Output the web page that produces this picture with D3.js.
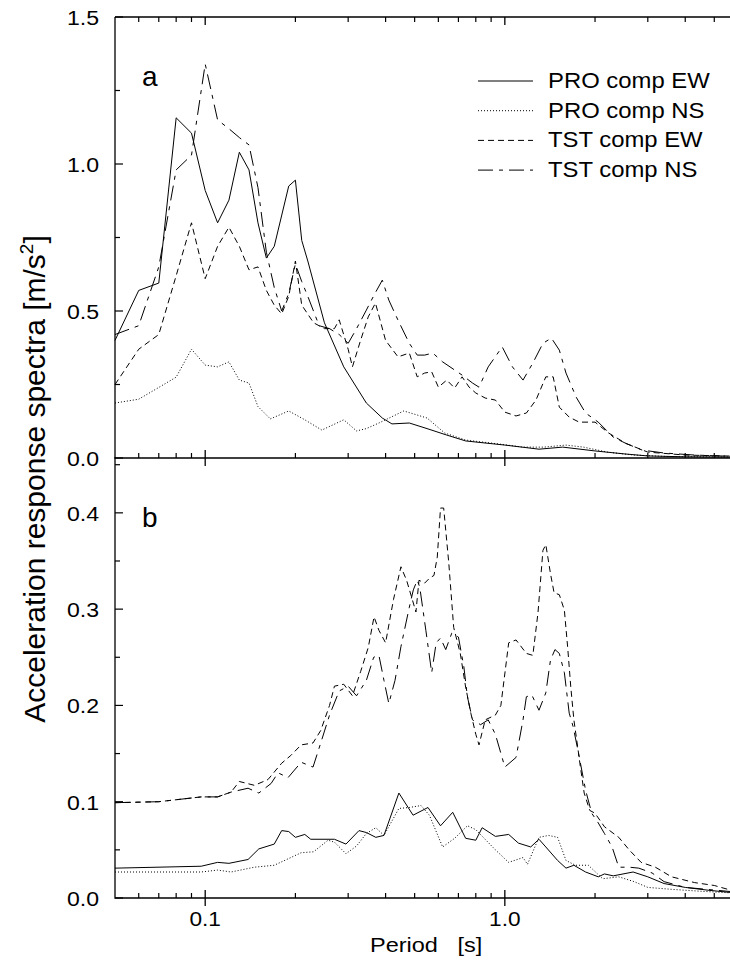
<html>
<script src="https://d3js.org/d3.v7.min.js"></script>
<style>
  body { margin: 0; background: white; }
  svg { display: block; font-family: "Liberation Sans", Arial, sans-serif; }
</style>
<body>
<svg id="chart" width="730" height="962"></svg>
<script>
// data: [period (s), acceleration (m/s2)]
const proEwA = [[0.05,0.40],[0.06,0.57],[0.07,0.595],[0.08,1.157],[0.09,1.105],[0.1,0.91],[0.11,0.80],[0.12,0.877],[0.13,1.04],[0.14,0.98],[0.15,0.80],[0.16,0.68],[0.17,0.72],[0.19,0.925],[0.2,0.945],[0.21,0.74],[0.22,0.67],[0.25,0.46],[0.29,0.31],[0.345,0.187],[0.39,0.136],[0.42,0.116],[0.48,0.119],[0.55,0.10],[0.64,0.078],[0.74,0.058],[1.0,0.044],[1.3,0.03],[1.56,0.037],[2.0,0.024],[2.5,0.014],[3.0,0.007],[4.0,0.004],[6,0.003]];
const proNsA = [[0.05,0.187],[0.06,0.20],[0.07,0.24],[0.08,0.275],[0.09,0.37],[0.1,0.316],[0.11,0.31],[0.12,0.327],[0.13,0.265],[0.14,0.255],[0.15,0.175],[0.165,0.133],[0.19,0.16],[0.215,0.13],[0.245,0.095],[0.29,0.13],[0.32,0.092],[0.345,0.10],[0.38,0.119],[0.46,0.16],[0.55,0.136],[0.63,0.085],[0.74,0.061],[0.95,0.048],[1.15,0.037],[1.35,0.037],[1.6,0.044],[1.83,0.037],[2.2,0.02],[2.7,0.01],[3.5,0.005],[6,0.003]];
const tstEwA = [[0.05,0.25],[0.06,0.37],[0.07,0.42],[0.08,0.62],[0.09,0.80],[0.1,0.61],[0.11,0.72],[0.12,0.785],[0.13,0.72],[0.14,0.64],[0.15,0.65],[0.16,0.57],[0.17,0.52],[0.18,0.49],[0.19,0.55],[0.2,0.67],[0.21,0.52],[0.23,0.46],[0.25,0.44],[0.27,0.44],[0.28,0.47],[0.30,0.37],[0.31,0.31],[0.33,0.40],[0.35,0.48],[0.37,0.527],[0.4,0.40],[0.44,0.344],[0.48,0.357],[0.51,0.276],[0.54,0.289],[0.57,0.293],[0.6,0.241],[0.64,0.265],[0.68,0.238],[0.72,0.276],[0.76,0.241],[0.8,0.221],[0.86,0.204],[0.93,0.197],[1.0,0.156],[1.09,0.143],[1.18,0.153],[1.27,0.197],[1.37,0.276],[1.45,0.276],[1.52,0.173],[1.64,0.139],[1.77,0.122],[2.0,0.122],[2.22,0.085],[2.53,0.05],[3.0,0.02],[4.0,0.01],[6,0.006]];
const tstNsA = [[0.05,0.42],[0.06,0.45],[0.07,0.65],[0.08,0.98],[0.09,1.03],[0.1,1.34],[0.11,1.15],[0.12,1.12],[0.13,1.09],[0.14,1.065],[0.15,0.92],[0.16,0.70],[0.17,0.58],[0.18,0.50],[0.19,0.56],[0.2,0.66],[0.21,0.60],[0.22,0.55],[0.24,0.45],[0.26,0.44],[0.28,0.42],[0.30,0.39],[0.32,0.44],[0.345,0.503],[0.366,0.554],[0.39,0.605],[0.41,0.537],[0.44,0.469],[0.48,0.39],[0.51,0.35],[0.54,0.35],[0.575,0.357],[0.62,0.327],[0.72,0.282],[0.78,0.255],[0.82,0.241],[0.88,0.31],[0.98,0.378],[1.06,0.31],[1.15,0.265],[1.24,0.323],[1.34,0.39],[1.43,0.408],[1.52,0.367],[1.6,0.289],[1.73,0.207],[1.86,0.153],[2.05,0.122],[2.3,0.071],[2.53,0.05],[2.87,0.027],[3.4,0.017],[4.3,0.01],[6,0.005]];

const proEwB = [[0.05,0.031],[0.097,0.033],[0.11,0.037],[0.12,0.036],[0.139,0.040],[0.151,0.051],[0.17,0.056],[0.18,0.070],[0.19,0.069],[0.2,0.063],[0.215,0.066],[0.225,0.061],[0.27,0.061],[0.295,0.056],[0.326,0.07],[0.345,0.068],[0.371,0.063],[0.395,0.065],[0.443,0.109],[0.494,0.086],[0.554,0.094],[0.61,0.075],[0.67,0.089],[0.74,0.062],[0.8,0.060],[0.84,0.073],[0.93,0.064],[1.03,0.066],[1.11,0.057],[1.22,0.053],[1.3,0.061],[1.37,0.053],[1.5,0.039],[1.6,0.031],[1.7,0.034],[1.86,0.027],[2.05,0.022],[2.15,0.025],[2.3,0.023],[2.68,0.027],[3.0,0.022],[3.4,0.015],[4.0,0.011],[4.8,0.008],[6,0.005]];
const proNsB = [[0.05,0.027],[0.097,0.027],[0.11,0.029],[0.122,0.027],[0.146,0.032],[0.17,0.034],[0.193,0.042],[0.209,0.047],[0.23,0.048],[0.257,0.060],[0.27,0.058],[0.295,0.046],[0.32,0.054],[0.345,0.067],[0.371,0.073],[0.395,0.065],[0.443,0.093],[0.48,0.094],[0.525,0.096],[0.56,0.086],[0.62,0.053],[0.68,0.062],[0.75,0.075],[0.8,0.071],[0.93,0.050],[1.03,0.037],[1.15,0.042],[1.19,0.035],[1.3,0.063],[1.4,0.065],[1.5,0.063],[1.6,0.039],[1.72,0.034],[1.9,0.034],[2.12,0.020],[2.4,0.022],[2.7,0.017],[3.0,0.011],[3.6,0.009],[4.5,0.007],[6,0.005]];
const tstEwB = [[0.05,0.099],[0.07,0.10],[0.097,0.105],[0.11,0.105],[0.122,0.11],[0.13,0.121],[0.146,0.117],[0.162,0.123],[0.18,0.14],[0.193,0.148],[0.209,0.159],[0.229,0.161],[0.243,0.174],[0.26,0.20],[0.27,0.22],[0.29,0.222],[0.31,0.21],[0.33,0.235],[0.35,0.26],[0.366,0.292],[0.38,0.278],[0.40,0.265],[0.425,0.31],[0.45,0.344],[0.47,0.33],[0.49,0.311],[0.505,0.297],[0.517,0.33],[0.54,0.327],[0.56,0.332],[0.58,0.335],[0.595,0.354],[0.61,0.405],[0.625,0.405],[0.65,0.348],[0.675,0.281],[0.71,0.254],[0.74,0.219],[0.77,0.192],[0.8,0.17],[0.82,0.159],[0.86,0.185],[0.93,0.19],[0.97,0.2],[1.03,0.265],[1.09,0.268],[1.18,0.254],[1.24,0.252],[1.29,0.296],[1.34,0.361],[1.37,0.367],[1.42,0.337],[1.46,0.317],[1.52,0.315],[1.58,0.299],[1.62,0.261],[1.66,0.219],[1.7,0.185],[1.75,0.157],[1.78,0.14],[1.84,0.109],[1.92,0.091],[2.0,0.088],[2.15,0.074],[2.4,0.063],[2.6,0.05],[2.85,0.037],[3.18,0.032],[3.6,0.022],[4.3,0.016],[5.0,0.013],[6,0.006]];
const tstNsB = [[0.05,0.099],[0.07,0.10],[0.097,0.105],[0.11,0.105],[0.122,0.11],[0.139,0.114],[0.151,0.109],[0.166,0.119],[0.175,0.13],[0.189,0.125],[0.209,0.141],[0.229,0.136],[0.243,0.161],[0.26,0.19],[0.28,0.215],[0.30,0.22],[0.32,0.21],[0.345,0.226],[0.365,0.25],[0.38,0.252],[0.395,0.226],[0.41,0.202],[0.43,0.226],[0.45,0.261],[0.48,0.302],[0.495,0.32],[0.51,0.33],[0.52,0.323],[0.545,0.278],[0.57,0.234],[0.59,0.265],[0.61,0.27],[0.635,0.258],[0.665,0.275],[0.7,0.271],[0.73,0.24],[0.75,0.209],[0.78,0.185],[0.83,0.18],[0.88,0.185],[0.93,0.17],[1.0,0.136],[1.09,0.146],[1.15,0.185],[1.18,0.209],[1.23,0.211],[1.3,0.195],[1.37,0.213],[1.42,0.247],[1.47,0.258],[1.52,0.254],[1.58,0.234],[1.64,0.192],[1.69,0.178],[1.76,0.151],[1.86,0.112],[1.95,0.088],[2.05,0.078],[2.15,0.067],[2.28,0.053],[2.4,0.032],[2.6,0.032],[2.8,0.031],[3.1,0.026],[3.4,0.017],[4.0,0.011],[6,0.006]];

const seriesNames = ["PRO comp EW", "PRO comp NS", "TST comp EW", "TST comp NS"];
const xMajor = [0.1, 1.0];
const xMinor = [0.06, 0.07, 0.08, 0.09, 0.2, 0.3, 0.4, 0.5, 0.6, 0.7, 0.8, 0.9, 2, 3, 4, 5];
const yMajorA = [0, 0.5, 1.0, 1.5], yMinorA = [0.25, 0.75, 1.25];
const yMajorB = [0, 0.1, 0.2, 0.3, 0.4], yMinorB = [0.05, 0.15, 0.25, 0.35, 0.45];

const dashes = [null, "1,2", "6,4", "15,6,4,6"];

const svg = d3.select("#chart");
const left = 115, right = 738;
const x = d3.scaleLog().domain([0.05, 6]).range([left, right]);
const yA = d3.scaleLinear().domain([0, 1.5]).range([458, 17]);
const yB = d3.scaleLinear().domain([0, 0.458]).range([898, 457]);

function txt(g, px, py, s, size, sx, anchor) {
  return g.append("text")
    .attr("transform", `translate(${px},${py}) scale(${sx},1)`)
    .attr("text-anchor", anchor || "start")
    .style("font-size", size + "px")
    .text(s);
}

function panel(y, series, yMaj, yMin, topTicks, lab) {
  const g = svg.append("g");
  const y0 = y.range()[0], y1 = y.range()[1];
  const line = d3.line().x(d => x(d[0])).y(d => y(d[1]));
  series.forEach((s, i) => {
    g.append("path").datum(s)
      .attr("d", line)
      .attr("fill", "none")
      .attr("stroke", "#000")
      .attr("stroke-width", 1)
      .attr("stroke-dasharray", dashes[i]);
  });
  // frame
  g.append("path")
    .attr("d", `M${left},${y1}V${y0}H${right}V${y1}` + (topTicks ? `H${left}` : ""))
    .attr("fill", "none").attr("stroke", "#000").attr("stroke-width", 1.3);
  // x ticks on bottom line: minor up, major across
  xMinor.forEach(v => g.append("line").attr("x1", x(v)).attr("x2", x(v))
    .attr("y1", y0).attr("y2", y0 - 5).attr("stroke", "#000").attr("stroke-width", 1.2));
  xMajor.forEach(v => g.append("line").attr("x1", x(v)).attr("x2", x(v))
    .attr("y1", y0 + 8).attr("y2", y0 - 8).attr("stroke", "#000").attr("stroke-width", 1.3));
  if (topTicks) {
    xMinor.forEach(v => g.append("line").attr("x1", x(v)).attr("x2", x(v))
      .attr("y1", y1).attr("y2", y1 + 5).attr("stroke", "#000").attr("stroke-width", 1.2));
    xMajor.forEach(v => g.append("line").attr("x1", x(v)).attr("x2", x(v))
      .attr("y1", y1).attr("y2", y1 + 8).attr("stroke", "#000").attr("stroke-width", 1.3));
  }
  // y ticks, both sides, pointing inward
  [[yMaj, 8], [yMin, 5]].forEach(([vals, len]) => vals.forEach(v => {
    g.append("line").attr("x1", left).attr("x2", left + len)
      .attr("y1", y(v)).attr("y2", y(v)).attr("stroke", "#000").attr("stroke-width", 1.2);
    g.append("line").attr("x1", right).attr("x2", right - len)
      .attr("y1", y(v)).attr("y2", y(v)).attr("stroke", "#000").attr("stroke-width", 1.2);
  }));
  yMaj.forEach(v => txt(g, 99, y(v) + 8, d3.format(".1f")(v), 21, 1.1, "end"));
  txt(g, 142, y1 + (topTicks ? 69 : 70), lab, 28, 1, "start");
}

panel(yA, [proEwA, proNsA, tstEwA, tstNsA], yMajorA, yMinorA, true, "a");
panel(yB, [proEwB, proNsB, tstEwB, tstNsB], yMajorB, yMinorB, false, "b");

// x tick labels
xMajor.forEach(v => txt(svg, x(v), 926, d3.format(".1f")(v), 21, 1.08, "middle"));
txt(svg, 370, 952, "Period\u00a0\u00a0\u00a0[s]", 21, 1.12, "start");

// y title
const yt = svg.append("text")
  .attr("transform", "translate(45,479) rotate(-90)")
  .attr("text-anchor", "middle")
  .style("font-size", "30px");
yt.append("tspan").text("Acceleration response spectra [m/s");
yt.append("tspan").attr("dy", -12).style("font-size", "19px").text("2");
yt.append("tspan").attr("dy", 12).text("]");

// legend
const leg = svg.append("g");
seriesNames.forEach((n, i) => {
  const by = 88 + i * 29.7;
  leg.append("line").attr("x1", 478).attr("x2", 533)
    .attr("y1", by - 7).attr("y2", by - 7)
    .attr("stroke", "#000").attr("stroke-width", 1)
    .attr("stroke-dasharray", dashes[i]);
  txt(leg, 548, by, n, 21.5, 1.11, "start");
});
</script>
</body>
</html>
